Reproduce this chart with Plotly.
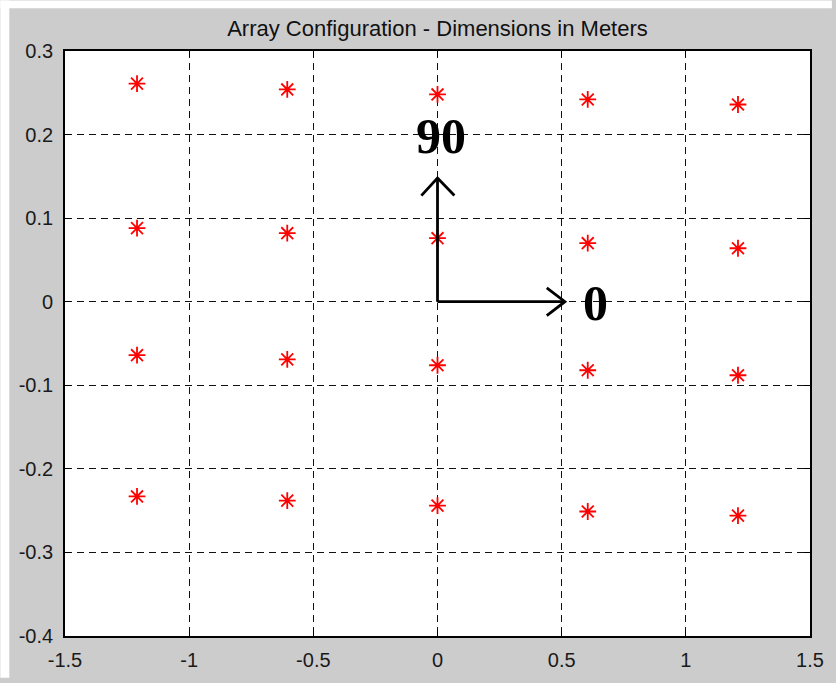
import plotly.graph_objects as go

# ---- data ----
col_x = [-1.21, -0.605, 0.0, 0.605, 1.21]
row1_y = [0.261, 0.254, 0.248, 0.242, 0.236]
row2_y = [0.088, 0.082, 0.076, 0.070, 0.064]
row3_y = [-0.064, -0.069, -0.076, -0.082, -0.088]
row4_y = [-0.233, -0.238, -0.244, -0.251, -0.256]

x_ticks = [-1.5, -1, -0.5, 0, 0.5, 1, 1.5]
x_tick_text = ["-1.5", "-1", "-0.5", "0", "0.5", "1", "1.5"]
y_ticks = [-0.4, -0.3, -0.2, -0.1, 0, 0.1, 0.2, 0.3]
y_tick_text = ["-0.4", "-0.3", "-0.2", "-0.1", "0", "0.1", "0.2", "0.3"]

# direction arrows (0 deg along x, 90 deg along y)
h_arrow_x = [0, 0.513, None, 0.44, 0.513, 0.44]
h_arrow_y = [0, 0, None, 0.0166, 0, -0.0166]
v_arrow_x = [0, 0, None, -0.065, 0, 0.068]
v_arrow_y = [0, 0.148, None, 0.127, 0.148, 0.127]
label_text = ["90", "0"]
label_x = [0.015, 0.637]
label_y = [0.198, -0.002]

title_text = "Array Configuration - Dimensions in Meters"

# ---- figure ----
W, H = 836, 683
ml, mr, mt, mb = 65, 22, 51, 42
pw, ph = W - ml - mr, H - mt - mb

def px_x(p):
    return (p - ml) / pw

def px_y(p):
    return (H - mb - p) / ph

all_x = col_x * 4
all_y = row1_y + row2_y + row3_y + row4_y

fig = go.Figure()
fig.add_trace(go.Scatter(
    x=all_x, y=all_y, mode="markers",
    marker=dict(symbol="asterisk-open", size=14,
                color="#ff0000", line=dict(color="#ff0000", width=1.8)),
    showlegend=False, hoverinfo="skip"))
for ax_, ay_ in [(h_arrow_x, h_arrow_y), (v_arrow_x, v_arrow_y)]:
    fig.add_trace(go.Scatter(
        x=ax_, y=ay_, mode="lines",
        line=dict(color="#000000", width=2.8),
        showlegend=False, hoverinfo="skip", connectgaps=False))

annotations = []
for t, lx, ly in zip(label_text, label_x, label_y):
    annotations.append(dict(
        x=lx, y=ly, xref="x", yref="y", text="<b>%s</b>" % t,
        showarrow=False, xanchor="center", yanchor="middle",
        font=dict(family="Liberation Serif", size=50, color="#000000")))

shapes = [
    dict(type="rect", xref="paper", yref="paper",
         x0=px_x(0), x1=px_x(9), y0=px_y(H), y1=px_y(0),
         fillcolor="white", line=dict(width=0), layer="below"),
    dict(type="rect", xref="paper", yref="paper",
         x0=px_x(0), x1=px_x(W), y0=px_y(8), y1=px_y(0),
         fillcolor="white", line=dict(width=0), layer="below"),
]

axis_common = dict(
    showgrid=True, gridcolor="#111111", gridwidth=1.4, griddash="7px,5px",
    zeroline=False, showline=True, linecolor="#000000", linewidth=1.8,
    mirror="ticks", ticks="inside", ticklen=6, tickcolor="#000000",
    tickfont=dict(family="Liberation Sans", size=20, color="#1a1a1a"),
)

fig.update_layout(
    width=W, height=H,
    margin=dict(l=ml, r=mr, t=mt, b=mb, pad=0),
    paper_bgcolor="#cccccc", plot_bgcolor="#ffffff",
    title=dict(text=title_text, x=0.5, xref="paper", xanchor="center",
               y=1 - 28 / H, yref="container", yanchor="middle",
               font=dict(family="Liberation Sans", size=22, color="#111111")),
    xaxis=dict(range=[-1.5, 1.5], tickvals=x_ticks, ticktext=x_tick_text,
               ticklabelstandoff=5, **axis_common),
    yaxis=dict(range=[-0.4, 0.3], tickvals=y_ticks, ticktext=y_tick_text,
               ticklabelstandoff=6, **axis_common),
    annotations=annotations, shapes=shapes,
)

fig.write_html("out.html")
